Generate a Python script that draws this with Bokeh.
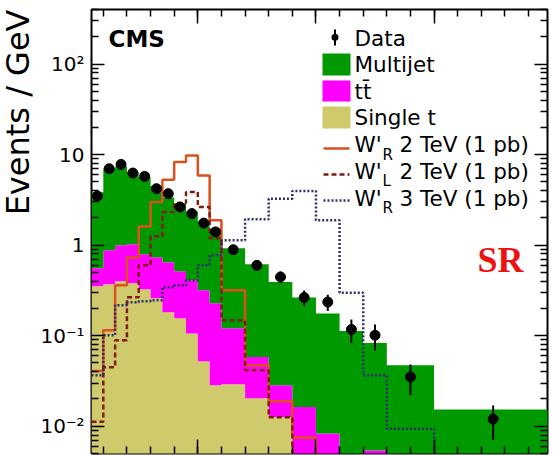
import numpy as np

from bokeh.plotting import figure
from bokeh.models import (Range1d, FixedTicker, LinearAxis, LogAxis, Label, Title,
                          BoxAnnotation, Arrow, CustomJSTickFormatter)
from bokeh.embed import file_html
from bokeh.resources import INLINE

# ---------------------------------------------------------------- data
# reconstructed mass bins [GeV]
bin_edges = [1050, 1100, 1150, 1200, 1250, 1300, 1350, 1400, 1450, 1500, 1550,
             1600, 1700, 1800, 1900, 2000, 2100, 2200, 2300, 2500, 3000]

# observed events / GeV and their uncertainties
data_obs = [3.48, 6.98, 7.79, 6.25, 5.74, 4.20, 3.70, 2.63, 2.23, 1.75, 1.40,
            0.891, 0.598, 0.445, 0.264, 0.235, 0.117, 0.101, 0.035, 0.012]
data_err = [0.26, 0.37, 0.40, 0.35, 0.34, 0.29, 0.27, 0.23, 0.21, 0.19, 0.17,
            0.094, 0.077, 0.067, 0.051, 0.048, 0.034, 0.032, 0.013, 0.0049]

# background components (stacked: single t, then ttbar, then multijet)
single_t = [0.351, 0.369, 0.399, 0.379, 0.325, 0.259, 0.181, 0.156, 0.106, 0.0522, 0.0284,
            0.0291, 0.0204, 0.0126, 0.0, 0.0, 0.0, 0.0, 0.0, 0.0]
ttbar = [0.203, 0.507, 0.596, 0.641, 0.466, 0.474, 0.465, 0.358, 0.303, 0.265, 0.200,
         0.0917, 0.0378, 0.0158, 0.0163, 0.0083, 0.0, 0.0054, 0.0, 0.0]
multijet = [3.28, 6.16, 6.41, 5.34, 4.81, 3.73, 2.72, 2.38, 1.95, 1.51, 1.23,
            0.801, 0.556, 0.363, 0.247, 0.167, 0.113, 0.0777, 0.0472, 0.0153]

# signal hypotheses, normalised to 1 pb
wprime_r_2tev = [0.0408, 0.115, 0.360, 0.728, 1.61, 2.99, 5.28, 8.26, 9.79, 5.89, 1.88,
                 0.317, 0.0472, 0.0189, 0.0075, 0.0, 0.0, 0.0, 0.0, 0.0]
wprime_l_2tev = [0.0112, 0.0448, 0.089, 0.265, 0.598, 1.25, 2.32, 2.91, 3.85, 2.63, 1.19,
                 0.148, 0.0415, 0.0126, 0.0, 0.0, 0.0, 0.0, 0.0, 0.0]
wprime_r_3tev = [0.0366, 0.101, 0.217, 0.234, 0.240, 0.246, 0.342, 0.360, 0.409, 0.598, 0.772,
                 1.13, 1.93, 3.26, 3.95, 1.88, 0.298, 0.0366, 0.0094, 0.0]

# axis ticks and their labels
x_major_ticks = [1000, 1500, 2000, 2500, 3000]
x_minor_ticks = list(range(1000, 3001, 100))
y_major_ticks = [0.01, 0.1, 1, 10, 100]
y_tick_labels = ["10\u207b\u00b2", "10\u207b\u00b9", "1", "10", "10\u00b2"]

legend_labels = ["Data", "Multijet", "tt\u0304", "Single t"]

# ---------------------------------------------------------------- style
FONT = "DejaVu Sans"
GREEN = "#009a00"
MAGENTA = "#ff00ff"
KHAKI = "#cfca6c"
ORANGE = "#dc4f1e"
DARKRED = "#7f1d10"
NAVY = "#2b2f6e"

W, H = 554, 455
FRAME_L, FRAME_R, FRAME_T, FRAME_B = 90, 547, 9, 453
FLOOR = 1e-4


def sx(px):
    """canvas x pixel -> frame-relative screen x"""
    return px - FRAME_L


def sy(py):
    """canvas y pixel (from top) -> frame-relative screen y (upwards)"""
    return FRAME_B - py


p = figure(width=W, height=H,
           x_range=Range1d(1050, 2980), y_range=Range1d(0.005, 400),
           y_axis_type="log", output_backend="svg", toolbar_location=None,
           min_border_left=FRAME_L, min_border_right=W - FRAME_R,
           min_border_top=FRAME_T, min_border_bottom=H - FRAME_B)
p.background_fill_color = "white"
p.border_fill_color = "white"
p.outline_line_color = "black"
p.outline_line_width = 2
p.xgrid.grid_line_color = None
p.ygrid.grid_line_color = None

x_ticker = FixedTicker(ticks=x_major_ticks, minor_ticks=x_minor_ticks)
y_minor = [m * 10.0 ** e for e in range(-3, 3) for m in range(2, 10)]
y_ticker = FixedTicker(ticks=y_major_ticks, minor_ticks=y_minor)

p.add_layout(LinearAxis(), "above")
p.add_layout(LogAxis(), "right")

blank = CustomJSTickFormatter(code="return ''")
y_labels = CustomJSTickFormatter(
    args=dict(vals=y_major_ticks, labs=y_tick_labels),
    code="""
    for (let i = 0; i < vals.length; i++) {
        if (Math.abs(Math.log10(vals[i]) - Math.log10(tick)) < 1e-6) return labs[i];
    }
    return '';
    """)

for ax in p.xaxis:
    ax.ticker = x_ticker
    ax.major_tick_in, ax.minor_tick_in = 14, 7
for ax in p.yaxis:
    ax.ticker = y_ticker
    ax.major_tick_in, ax.minor_tick_in = 13, 7
for ax in list(p.xaxis) + list(p.yaxis):
    ax.formatter = blank
    ax.major_tick_out = 0
    ax.minor_tick_out = 0
    ax.major_tick_line_width = 1.5
    ax.minor_tick_line_width = 1.5
    ax.major_label_text_font_size = "0px"
    ax.major_label_standoff = 0
    ax.axis_line_color = None

# left axis carries the decade labels
left_axis = p.left[0]
left_axis.formatter = y_labels
left_axis.major_label_text_font_size = "20px"
left_axis.major_label_text_font = FONT
left_axis.major_label_text_color = "black"
left_axis.major_label_standoff = 7

# y axis title, flush with the top of the frame
p.add_layout(Title(text="Events / GeV", align="right", vertical_align="top",
                   text_font_size="32px", text_font=FONT, text_font_style="normal",
                   text_color="black", standoff=-3), "left")

# ---------------------------------------------------------------- histograms
edges = np.array(bin_edges, dtype=float)
centers = 0.5 * (edges[:-1] + edges[1:])


def ext(v):
    a = np.maximum(np.asarray(v, dtype=float), FLOOR)
    return np.append(a, a[-1])


stack1 = np.array(single_t)
stack2 = stack1 + np.array(ttbar)
stack3 = stack2 + np.array(multijet)

p.varea_step(x=edges, y1=ext(np.zeros_like(stack1)), y2=ext(stack1),
             step_mode="after", fill_color=KHAKI)
p.varea_step(x=edges, y1=ext(stack1), y2=ext(stack2),
             step_mode="after", fill_color=MAGENTA)
p.varea_step(x=edges, y1=ext(stack2), y2=ext(stack3),
             step_mode="after", fill_color=GREEN)

p.step(x=edges, y=ext(wprime_r_2tev), mode="after", line_color=ORANGE, line_width=2.5)
p.step(x=edges, y=ext(wprime_l_2tev), mode="after", line_color=DARKRED, line_width=2.5,
       line_dash="5 3")
p.step(x=edges, y=ext(wprime_r_3tev), mode="after", line_color=NAVY, line_width=2.5,
       line_dash="2 2")

obs = np.array(data_obs)
err = np.array(data_err)
p.segment(x0=centers, y0=obs - err, x1=centers, y1=obs + err,
          line_color="black", line_width=2)
p.scatter(x=centers, y=obs, size=10, color="black")


# ---------------------------------------------------------------- texts
def label(text, px, py, size, font=FONT, style="normal", color="black", align="left"):
    """text whose visual middle sits at canvas pixel (px, py)"""
    p.add_layout(Label(x=sx(px), y=sy(py), x_units="screen", y_units="screen",
                       text=text, text_font_size=f"{size}px", text_font=font,
                       text_font_style=style, text_color=color,
                       text_align=align, text_baseline="middle"))


label("CMS", 107, 38, 23, style="bold")
label("SR", 476, 259, 36, font="Liberation Serif", style="bold", color="#ee1111")

# legend
TX = 353
label(legend_labels[0], TX, 37.5, 21.5)
label(legend_labels[1], TX, 64.2, 21.5)
label(legend_labels[2], TX, 90.8, 21.5)
label(legend_labels[3], TX, 117.0, 21.5)

for mid_y, sub, rest in [(144.2, "R", "2 TeV (1 pb)"),
                         (170.8, "L", "2 TeV (1 pb)"),
                         (197.5, "R", "3 TeV (1 pb)")]:
    label("W'", TX, mid_y, 21.5)
    label(sub, 381, mid_y + 10, 15)
    label(rest, 398, mid_y, 21.5)

for top, bot, col in [(53, 75, GREEN), (80, 101, MAGENTA), (106, 128, KHAKI)]:
    p.add_layout(BoxAnnotation(left=sx(321), right=sx(349), top=sy(top), bottom=sy(bot),
                               left_units="screen", right_units="screen",
                               top_units="screen", bottom_units="screen",
                               fill_color=col, fill_alpha=1.0, line_color=None))

# data marker in the legend
p.add_layout(BoxAnnotation(left=sx(330), right=sx(337), top=sy(33.2), bottom=sy(40.2),
                           left_units="screen", right_units="screen",
                           top_units="screen", bottom_units="screen",
                           border_radius=4, fill_color="black", fill_alpha=1.0,
                           line_color=None))
p.add_layout(Arrow(end=None, x_start=sx(333.5), y_start=sy(29), x_end=sx(333.5), y_end=sy(45),
                   start_units="screen", end_units="screen",
                   line_color="black", line_width=2))

for yy, col, dash in [(148, ORANGE, "solid"), (174, DARKRED, "5 3"), (200, NAVY, "2 2")]:
    p.add_layout(Arrow(end=None, x_start=sx(322), y_start=sy(yy), x_end=sx(348), y_end=sy(yy),
                       start_units="screen", end_units="screen",
                       line_color=col, line_width=2.5, line_dash=dash))

open("out.html", "w").write(file_html(p, INLINE))
